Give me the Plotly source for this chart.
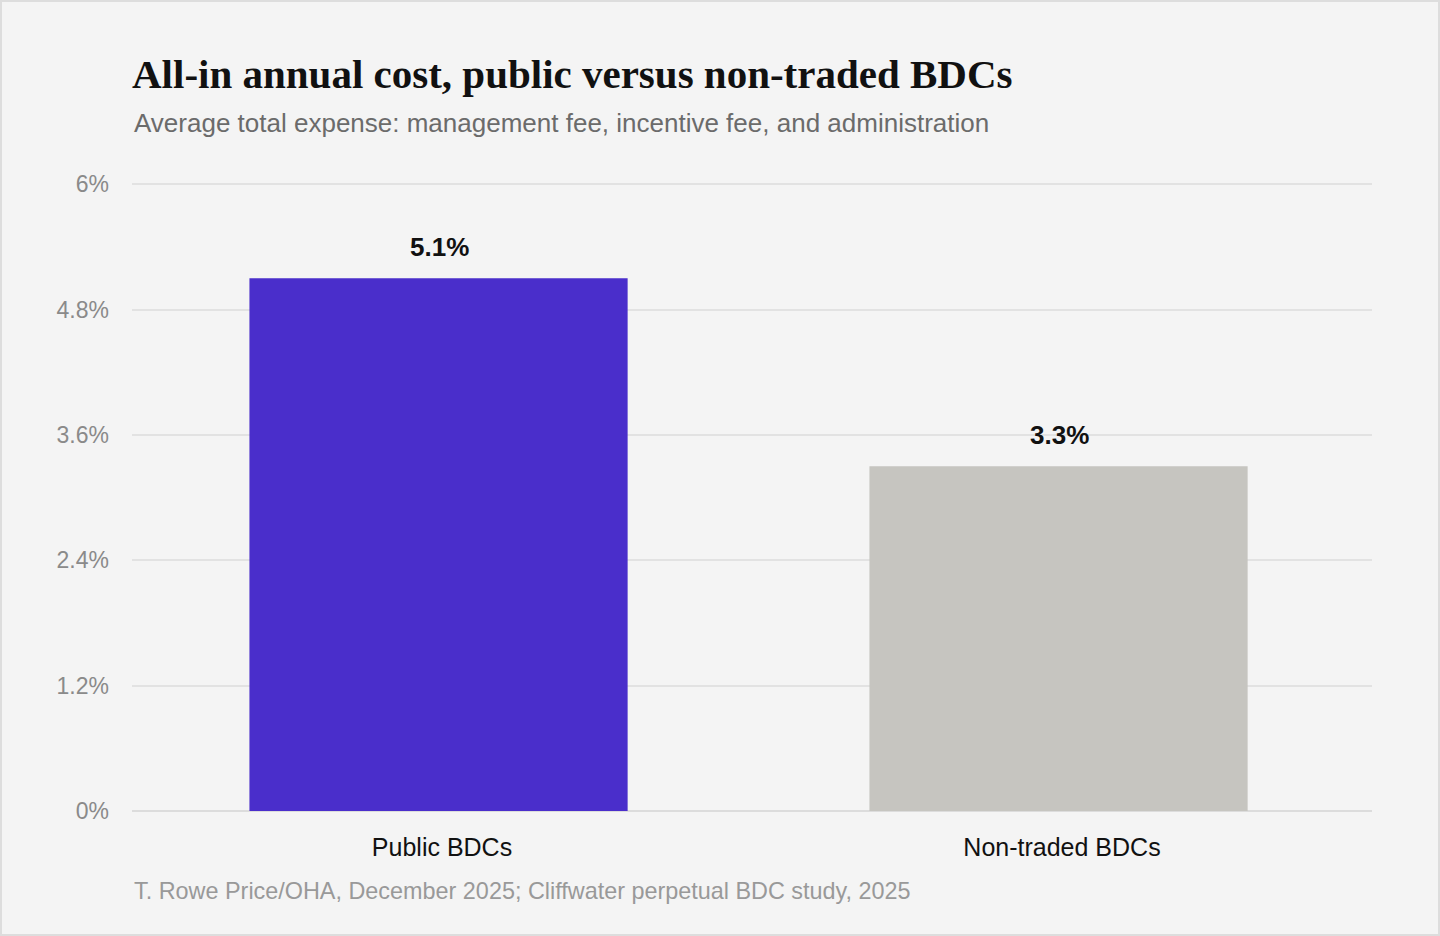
import plotly.graph_objects as go

# Chart data
categories = ["Public BDCs", "Non-traded BDCs"]
all_in_cost = [5.1, 3.3]
bar_labels = ["5.1%", "3.3%"]
bar_colors = ["#4a2ecb", "#c6c5c0"]
y_ticks = [0, 1.2, 2.4, 3.6, 4.8, 6]
y_tick_text = ["0%", "1.2%", "2.4%", "3.6%", "4.8%", "6%"]

title = "All-in annual cost, public versus non-traded BDCs"
subtitle = "Average total expense: management fee, incentive fee, and administration"
source = "T. Rowe Price/OHA, December 2025; Cliffwater perpetual BDC study, 2025"

W, H = 1440, 936
Y_MAX = 6.04  # a bit of headroom so the 6% gridline is drawn
ML, MR, MB = 132, 68, 125
MT = round(H - MB - 627 * Y_MAX / 6)
PW, PH = W - ML - MR, H - MT - MB


def px_to_paper_y(py):
    return (H - MB - py) / PH


def px_to_paper_x(px):
    return (px - ML) / PW


BAR_W = 0.61

fig = go.Figure()
fig.add_trace(
    go.Bar(
        x=categories,
        y=all_in_cost,
        width=BAR_W,
        offset=-BAR_W / 2 - 0.0056,
        marker_color=bar_colors,
        marker_line_width=0,
        hoverinfo="skip",
    )
)

# value labels above the bars
for cat, val, lab in zip(categories, all_in_cost, bar_labels):
    fig.add_annotation(
        x=cat,
        y=val,
        xshift=-3,
        text="<b>" + lab + "</b>",
        showarrow=False,
        yanchor="bottom",
        yshift=14,
        font=dict(size=26, color="#111111"),
    )

fig.update_layout(
    width=W,
    height=H,
    margin=dict(l=ML, r=MR, t=MT, b=MB),
    paper_bgcolor="#f4f4f4",
    plot_bgcolor="#f4f4f4",
    showlegend=False,
    font=dict(family="Liberation Sans, Arial, sans-serif"),
    title=dict(
        text="<b>" + title + "</b>",
        font=dict(family="Liberation Serif, DejaVu Serif, serif", size=41, color="#111111"),
        xref="paper",
        x=0,
        xanchor="left",
        yref="container",
        y=1 - 74 / H,
        yanchor="middle",
    ),
)

fig.update_yaxes(
    range=[0, Y_MAX],
    tickvals=y_ticks,
    ticktext=y_tick_text,
    tickfont=dict(size=23, color="#8a8a8a"),
    showgrid=True,
    gridcolor="#e2e2e2",
    gridwidth=1.5,
    zeroline=True,
    zerolinecolor="#dcdcdc",
    zerolinewidth=1.5,
    showline=False,
    ticks="",
    ticklabelstandoff=22,
    fixedrange=True,
)
fig.update_xaxes(
    tickfont=dict(size=25, color="#111111"),
    showline=False,
    ticks="",
    ticklabelstandoff=19,
    fixedrange=True,
)

fig.add_annotation(
    text=subtitle,
    xref="paper",
    yref="paper",
    x=0,
    y=px_to_paper_y(123),
    xanchor="left",
    yanchor="middle",
    showarrow=False,
    font=dict(size=26, color="#6b6b6b"),
)
fig.add_annotation(
    text=source,
    xref="paper",
    yref="paper",
    x=0,
    y=px_to_paper_y(891),
    xanchor="left",
    yanchor="middle",
    showarrow=False,
    font=dict(size=23.4, color="#999999"),
)

# light frame around the whole card
fig.add_shape(
    type="rect",
    xref="paper",
    yref="paper",
    x0=px_to_paper_x(1),
    x1=px_to_paper_x(W - 1),
    y0=px_to_paper_y(H - 1),
    y1=px_to_paper_y(1),
    line=dict(color="#dddddd", width=2),
    fillcolor="rgba(0,0,0,0)",
    layer="below",
)

fig.write_html(
    "out.html",
    config={"displayModeBar": False},
    post_script="document.body.style.margin='0';",
)
